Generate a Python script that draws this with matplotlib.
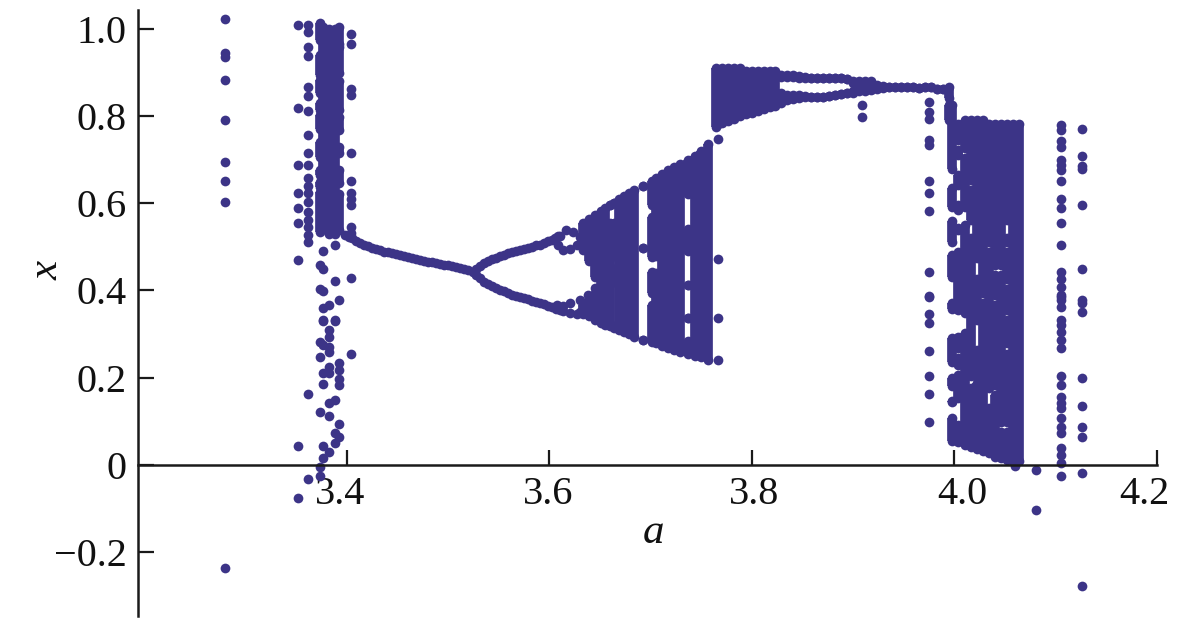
import matplotlib
matplotlib.use("Agg")
import matplotlib.pyplot as plt
from matplotlib.transforms import ScaledTranslation

plt.rcParams['font.family'] = ['Liberation Serif', 'DejaVu Serif']

DOT = '#3c3487'

# Isolated points, one entry per parameter column
sparse_a = [3.2795, 3.352, 3.3615, 3.3733, 3.3766, 3.3822, 3.3884, 3.3918, 3.4037,
            3.7661, 3.9083, 3.9744, 4.0598, 4.0805, 4.1049, 4.1259]
sparse_x = [
    [1.022, 0.945, 0.936, 0.882, 0.79, 0.694, 0.651, 0.602, -0.236],
    [1.008, 0.819, 0.687, 0.624, 0.588, 0.554, 0.469, 0.044, -0.076],
    [1.008, 0.992, 0.959, 0.937, 0.867, 0.846, 0.812, 0.756, 0.714, 0.687, 0.658, 0.639,
     0.624, 0.603, 0.58, 0.561, 0.546, 0.527, 0.511, 0.162, -0.033],
    [0.457, 0.404, 0.281, 0.246, 0.121, -0.006, -0.026],
    [0.491, 0.45, 0.399, 0.359, 0.333, 0.33, 0.275, 0.211, 0.184, 0.044, 0.016],
    [0.366, 0.309, 0.294, 0.269, 0.259, 0.225, 0.211, 0.141, 0.112, 0.03],
    [0.504, 0.421, 0.333, 0.33, 0.148, 0.072, 0.05],
    [0.378, 0.233, 0.217, 0.197, 0.183, 0.093, 0.064],
    [0.987, 0.966, 0.861, 0.848, 0.714, 0.651, 0.624, 0.609, 0.596, 0.546, 0.531, 0.428, 0.253],
    [0.781, 0.746, 0.471, 0.337, 0.24],
    [0.825, 0.798],
    [0.833, 0.81, 0.794, 0.745, 0.733, 0.651, 0.624, 0.582, 0.441, 0.385, 0.387, 0.346,
     0.324, 0.261, 0.204, 0.162, 0.099],
    [-0.002],
    [-0.012, -0.104],
    [0.779, 0.768, 0.743, 0.728, 0.7, 0.687, 0.676, 0.651, 0.61, 0.588, 0.554, 0.505, 0.441,
     0.427, 0.407, 0.385, 0.389, 0.378, 0.362, 0.332, 0.32, 0.305, 0.286, 0.267, 0.204, 0.183,
     0.156, 0.141, 0.129, 0.106, 0.087, 0.072, 0.038, 0.022, 0.003, -0.026],
    [0.77, 0.708, 0.684, 0.678, 0.596, 0.449, 0.378, 0.372, 0.351, 0.198, 0.135, 0.086, 0.064,
     -0.018, -0.278],
]

# Single stable branch and the two branches of the first split
stem_a = [3.398, 3.402, 3.405, 3.409, 3.413, 3.417, 3.421, 3.425, 3.429, 3.433, 3.437, 3.441,
          3.444, 3.448, 3.452, 3.456, 3.46, 3.464, 3.468, 3.472, 3.476, 3.48, 3.484, 3.488,
          3.492, 3.496, 3.5, 3.504, 3.508, 3.512, 3.516, 3.52, 3.524]
stem_x = [0.527, 0.523, 0.52, 0.513, 0.508, 0.505, 0.502, 0.498, 0.495, 0.492, 0.489, 0.487,
          0.485, 0.483, 0.481, 0.478, 0.476, 0.474, 0.472, 0.47, 0.468, 0.466, 0.465, 0.463,
          0.461, 0.459, 0.458, 0.455, 0.453, 0.451, 0.449, 0.446, 0.442]
upper_a = [3.527, 3.531, 3.535, 3.539, 3.543, 3.547, 3.551, 3.555, 3.559, 3.563, 3.567, 3.571,
           3.575, 3.579, 3.583, 3.587, 3.591, 3.595, 3.599, 3.602, 3.605, 3.608]
upper_x = [0.449, 0.456, 0.462, 0.467, 0.471, 0.474, 0.478, 0.481, 0.485, 0.488, 0.49, 0.492,
           0.495, 0.497, 0.5, 0.503, 0.505, 0.508, 0.512, 0.515, 0.519, 0.524]
lower_a = [3.527, 3.531, 3.535, 3.539, 3.543, 3.547, 3.551, 3.555, 3.559, 3.563, 3.567, 3.571,
           3.575, 3.579, 3.583, 3.587, 3.591, 3.595, 3.599, 3.602, 3.606, 3.61]
lower_x = [0.435, 0.428, 0.42, 0.414, 0.409, 0.405, 0.401, 0.398, 0.393, 0.389, 0.387, 0.385,
           0.382, 0.379, 0.376, 0.373, 0.371, 0.369, 0.365, 0.362, 0.358, 0.355]
loop_a = [3.6104, 3.6163, 3.6235, 3.6301, 3.6268, 3.6202, 3.6137, 3.6087,
          3.607, 3.6137, 3.6202, 3.6301, 3.6384, 3.645, 3.6137, 3.6202, 3.6268, 3.63]
loop_x = [0.5246, 0.5383, 0.5345, 0.523, 0.5039, 0.494, 0.4925, 0.5039,
          0.366, 0.363, 0.37, 0.378, 0.389, 0.405, 0.352, 0.348, 0.345, 0.35]

# Columns where points merge: parameter value and its filled x ranges
early_a = [3.3733, 3.3766, 3.3822, 3.3884, 3.3918]
early_x = [
    [(1.012, 0.974), (0.94, 0.894), (0.882, 0.852), (0.829, 0.813), (0.802, 0.771),
     (0.741, 0.706), (0.676, 0.664), (0.649, 0.638), (0.626, 0.534)],
    [(1.005, 0.54)],
    [(1.0, 0.53)],
    [(1.0, 0.53)],
    [(1.005, 0.966), (0.959, 0.898), (0.879, 0.813), (0.798, 0.768), (0.729, 0.714),
     (0.676, 0.645), (0.622, 0.538)],
]

wedge_a = [3.6334, 3.6393, 3.6453, 3.6512, 3.6551, 3.6594, 3.6637, 3.6683, 3.6736, 3.6788, 3.6835,
           3.692, 3.7009, 3.7052, 3.7111, 3.717, 3.723, 3.7289, 3.7368, 3.744, 3.7499, 3.7569]
wedge_x = [
    [(0.555, 0.492), (0.366, 0.346)],
    [(0.563, 0.468), (0.379, 0.34)],
    [(0.573, 0.431), (0.393, 0.332)],
    [(0.582, 0.326)],
    [(0.588, 0.32)],
    [(0.595, 0.595), (0.555, 0.317)],
    [(0.601, 0.601), (0.555, 0.529), (0.509, 0.479), (0.448, 0.42), (0.317, 0.313)],
    [(0.609, 0.309)],
    [(0.616, 0.304)],
    [(0.624, 0.3)],
    [(0.63, 0.294)],
    [(0.639, 0.639), (0.497, 0.497), (0.287, 0.287)],
    [(0.651, 0.596), (0.569, 0.477), (0.443, 0.393), (0.366, 0.281)],
    [(0.657, 0.479), (0.439, 0.278)],
    [(0.667, 0.272)],
    [(0.676, 0.268)],
    [(0.682, 0.263)],
    [(0.69, 0.259)],
    [(0.7, 0.621), (0.54, 0.491), (0.412, 0.412), (0.337, 0.337), (0.284, 0.253)],
    [(0.708, 0.249)],
    [(0.72, 0.246)],
    [(0.735, 0.241)],
]

plateau_a = [3.7641, 3.77, 3.7759, 3.7819, 3.7878, 3.7937, 3.7996, 3.8056, 3.8115, 3.8174, 3.8227,
             3.8286, 3.8345, 3.8405, 3.8464, 3.8523, 3.8582, 3.8642, 3.8701, 3.876, 3.8819,
             3.8879, 3.8938, 3.8997, 3.9056, 3.9116, 3.9175, 3.9234, 3.9293, 3.9353, 3.9412,
             3.9471, 3.953, 3.959, 3.9649, 3.9708, 3.9767, 3.9827, 3.9886, 3.9945]
plateau_x = [
    [(0.909, 0.774)], [(0.909, 0.784)], [(0.909, 0.789)], [(0.909, 0.794)], [(0.909, 0.8)],
    [(0.904, 0.804)], [(0.903, 0.806)], [(0.903, 0.811)], [(0.903, 0.815)], [(0.903, 0.82)],
    [(0.903, 0.823)],
    [(0.894, 0.89), (0.853, 0.829)], [(0.894, 0.89), (0.848, 0.836)],
    [(0.894, 0.89), (0.848, 0.838)], [(0.892, 0.888), (0.848, 0.84)],
    [(0.89, 0.888), (0.846, 0.843)], [(0.888, 0.888), (0.844, 0.844)],
    [(0.888, 0.888), (0.844, 0.844)], [(0.888, 0.888), (0.844, 0.844)],
    [(0.888, 0.888), (0.846, 0.846)], [(0.888, 0.888), (0.848, 0.848)],
    [(0.886, 0.886), (0.85, 0.85)], [(0.884, 0.884), (0.852, 0.852)],
    [(0.88, 0.875), (0.856, 0.853)],
    [(0.881, 0.856)], [(0.88, 0.856)], [(0.879, 0.859)], [(0.871, 0.861)], [(0.869, 0.863)],
    [(0.867, 0.866)], [(0.867, 0.866)], [(0.866, 0.866)], [(0.866, 0.866)], [(0.866, 0.866)],
    [(0.863, 0.863)], [(0.866, 0.866)], [(0.866, 0.866)], [(0.861, 0.861)], [(0.861, 0.861)],
    [(0.867, 0.84), (0.825, 0.79)],
]

block_a = [3.9972, 4.0037, 4.0103, 4.0162, 4.0222, 4.0281, 4.034, 4.04, 4.0459, 4.0518, 4.0577, 4.0637]
block_x = [
    [(0.825, 0.678), (0.635, 0.59), (0.559, 0.51), (0.482, 0.43), (0.372, 0.357), (0.291, 0.235),
     (0.199, 0.181), (0.146, 0.143), (0.108, 0.055)],
    [(0.781, 0.745), (0.722, 0.71), (0.664, 0.641), (0.596, 0.584), (0.542, 0.538), (0.489, 0.355),
     (0.294, 0.267), (0.244, 0.229), (0.206, 0.152), (0.091, 0.052)],
    [(0.79, 0.726), (0.703, 0.592), (0.55, 0.347), (0.301, 0.045)],
    [(0.79, 0.653), (0.63, 0.561), (0.519, 0.204), (0.175, 0.041)],
    [(0.79, 0.473), (0.427, 0.332), (0.263, 0.202), (0.187, 0.037)],
    [(0.79, 0.393), (0.37, 0.032)],
    [(0.782, 0.511), (0.489, 0.175), (0.129, 0.026)],
    [(0.782, 0.458), (0.435, 0.389), (0.366, 0.183), (0.16, 0.018)],
    [(0.782, 0.458), (0.435, 0.099), (0.076, 0.015)],
    [(0.782, 0.561), (0.519, 0.511), (0.489, 0.427), (0.404, 0.355), (0.332, 0.278), (0.255, 0.099),
     (0.076, 0.011)],
    [(0.782, 0.009)],
    [(0.782, 0.009)],
]

xticks = [3.4, 3.6, 3.8, 4.0, 4.2]
xticklabels = ['3.4', '3.6', '3.8', '4.0', '4.2']
yticks = [-0.2, 0, 0.2, 0.4, 0.6, 0.8, 1.0]
yticklabels = ['\u22120.2', '0', '0.2', '0.4', '0.6', '0.8', '1.0']
xlabel_shift_px = [-7, -1.5, 2, 7.5, -13]

fig = plt.figure(figsize=(12, 6.29), dpi=100)
ax = fig.add_axes([138 / 1200, 13 / 629, 1019 / 1200, 606 / 629])
ax.set_xlim(3.1936, 4.2)
ax.set_ylim(-0.347, 1.0429)

MS = 7.0
dots_a, dots_x = [], []
for a, xs in zip(sparse_a, sparse_x):
    dots_a.extend([a] * len(xs))
    dots_x.extend(xs)
for xs, ys in [(stem_a, stem_x), (upper_a, upper_x), (lower_a, lower_x), (loop_a, loop_x)]:
    dots_a.extend(xs)
    dots_x.extend(ys)

for cols, bands in [(early_a, early_x), (wedge_a, wedge_x), (plateau_a, plateau_x), (block_a, block_x)]:
    for a, ranges in zip(cols, bands):
        for hi, lo in ranges:
            ax.vlines(a, lo, hi, colors=DOT, linewidth=MS, zorder=2)
            dots_a.extend([a, a])
            dots_x.extend([hi, lo])

ax.plot(dots_a, dots_x, ls='none', marker='o', ms=MS, mfc=DOT, mec=DOT, mew=0, zorder=2, clip_on=False)

for side in ['top', 'right']:
    ax.spines[side].set_visible(False)
ax.spines['bottom'].set_position(('data', 0))
ax.spines['left'].set_linewidth(1.8)
ax.spines['bottom'].set_linewidth(1.8)
ax.spines['left'].set_color('#1a1a1a')
ax.spines['bottom'].set_color('#1a1a1a')
ax.spines['bottom'].set_zorder(2.5)

ax.set_xticks(xticks, xticklabels)
ax.set_yticks(yticks, yticklabels)
ax.tick_params(axis='x', direction='in', length=11, width=1.6, labelsize=29, pad=8, color='#1a1a1a')
ax.tick_params(axis='y', direction='in', length=11.5, width=1.6, labelsize=29, pad=8, color='#1a1a1a')
for lab, shift in zip(ax.get_xticklabels(), xlabel_shift_px):
    lab.set_transform(lab.get_transform() + ScaledTranslation(shift / 100, 0, fig.dpi_scale_trans))
for lab in ax.get_xticklabels() + ax.get_yticklabels():
    lab.set_color('#111111')
    lab.set_zorder(5)

fig.text(653 / 1200, 1 - 533 / 629, 'a', fontsize=31, style='italic', ha='center', va='center', color='#111111')
fig.text(47 / 1200, 1 - 270 / 629, 'x', fontsize=31, style='italic', rotation=90, ha='center', va='center', color='#111111')

fig.savefig('out.png', dpi=100, facecolor='white')
